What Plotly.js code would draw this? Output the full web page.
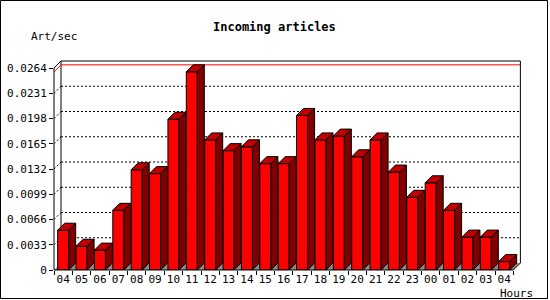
<!DOCTYPE html>
<html>
<head>
<meta charset="utf-8">
<script src="https://cdn.plot.ly/plotly-3.0.1.min.js"></script>
<style>html,body{margin:0;padding:0;background:#fff;}#chart{width:550px;height:300px;}</style>
</head>
<body>
<div id="chart"></div>
<script>
// ---- data ----
const hours = ['04','05','06','07','08','09','10','11','12','13','14','15','16','17','18','19','20','21','22','23','00','01','02','03','04'];
const rates = [0.0052,0.0031,0.0026,0.0078,0.0131,0.0126,0.0197,0.0259,0.0170,0.0156,0.0161,0.0139,0.0139,0.0202,0.0170,0.0175,0.0148,0.0170,0.0128,0.0095,0.0114,0.0078,0.0043,0.0043,0.0011];
const yTickVals = [0,0.0033,0.0066,0.0099,0.0132,0.0165,0.0198,0.0231,0.0264];
const yTickText = ['0','0.0033','0.0066','0.0099','0.0132','0.0165','0.0198','0.0231','0.0264'];
const chartTitle = 'Incoming articles';
const yTitle = 'Art/sec';
const xTitle = 'Hours';

// ---- geometry (pixels) ----
const W = 550, H = 300;
const N = hours.length;
const CW = 18.375;            // px per category
const FX0 = 54;               // front left
const FX1 = FX0 + N * CW;     // front right
const FY0 = 270;              // front bottom (value 0)
const FYT = 68;               // front y of top tick
const DEPTH = 7;              // 3d depth in px
const YMAX = yTickVals[yTickVals.length - 1];
const S = (FY0 - FYT) / YMAX; // px per unit
const DX = DEPTH / CW;
const DY = DEPTH / S;
const BW = 0.6;

const xs = hours.map((h, i) => i);

// side and top faces
const sideX = [], sideY = [], topX = [], topY = [];
rates.forEach((v, i) => {
  const l = i - BW / 2, r = i + BW / 2;
  sideX.push(r, r, r + DX, r + DX, r, null);
  sideY.push(0, v, v + DY, DY, 0, null);
  topX.push(l, r, r + DX, l + DX, l, null);
  topY.push(v, v, v + DY, v + DY, v, null);
});

const traces = [
  {type: 'bar', x: xs, y: rates, width: BW,
   marker: {color: '#ff0000', line: {color: '#000', width: 1}}, hoverinfo: 'skip'},
  {type: 'scatter', mode: 'lines', x: sideX, y: sideY, fill: 'toself', fillcolor: '#800000',
   line: {color: '#000', width: 1}, hoverinfo: 'skip', connectgaps: false},
  {type: 'scatter', mode: 'lines', x: topX, y: topY, fill: 'toself', fillcolor: '#c00000',
   line: {color: '#000', width: 1}, hoverinfo: 'skip', connectgaps: false}
];

const px = x => x / W, py = y => 1 - y / H;
const pline = (x0, y0, x1, y1, layer, color, dash) => ({type: 'line', xref: 'paper', yref: 'paper',
  x0: px(x0), y0: py(y0), x1: px(x1), y1: py(y1), layer: layer || 'above',
  line: {color: color || '#000', width: 1, dash: dash || 'solid'}});

const shapes = [];
// floor
shapes.push({type: 'path', xref: 'x', yref: 'y', layer: 'below',
  path: `M ${-0.5} 0 L ${N - 0.5} 0 L ${N - 0.5 + DX} ${DY} L ${-0.5 + DX} ${DY} Z`,
  fillcolor: '#8c8c8c', line: {width: 0}});
// back grid lines + left wall stubs
yTickVals.slice(1, -1).forEach(v => {
  shapes.push({type: 'line', xref: 'x', yref: 'y', layer: 'below',
    x0: -0.5 + DX, x1: N - 0.5 + DX, y0: v + DY, y1: v + DY,
    line: {color: '#000', width: 1, dash: '2px,2px'}});
  shapes.push({type: 'line', xref: 'x', yref: 'y', layer: 'below',
    x0: -0.5, x1: -0.5 + DX, y0: v, y1: v + DY,
    line: {color: '#000', width: 1, dash: '2px,2px'}});
});
// max line
const maxV = Math.max(...rates);
shapes.push({type: 'line', xref: 'x', yref: 'y', layer: 'below',
  x0: -0.5 + DX, x1: N - 0.5 + DX, y0: maxV + DY, y1: maxV + DY, line: {color: '#ff0000', width: 1}});
shapes.push({type: 'line', xref: 'x', yref: 'y', layer: 'below',
  x0: -0.5, x1: -0.5 + DX, y0: maxV, y1: maxV + DY, line: {color: '#ff0000', width: 1}});
// back frame
shapes.push(pline(FX0 + DEPTH, FY0 - DEPTH, FX0 + DEPTH, FYT - DEPTH, 'below'));
shapes.push(pline(FX0 + DEPTH, FYT - DEPTH, FX1 + DEPTH, FYT - DEPTH));
shapes.push(pline(FX1 + DEPTH, FYT - DEPTH, FX1 + DEPTH, FY0 - DEPTH));
shapes.push(pline(FX1 + DEPTH, FY0 - DEPTH, FX1, FY0));
// front frame
shapes.push(pline(FX0, FY0, FX0, FYT));
shapes.push(pline(FX0, FYT, FX0 + DEPTH, FYT - DEPTH));
shapes.push(pline(FX0, FY0, FX1, FY0));
// outer border
shapes.push({type: 'rect', xref: 'paper', yref: 'paper', x0: px(0.5), x1: px(547.5), y0: py(0.5), y1: py(298.5),
  line: {color: '#000', width: 1}, layer: 'above'});

const boundaries = [];
for (let i = 0; i <= N; i++) boundaries.push(i - 0.5);

const FONT = 'DejaVu Sans Mono';
const layout = {
  width: W, height: H,
  margin: {l: 0, r: 0, t: 0, b: 0},
  paper_bgcolor: '#fff', plot_bgcolor: 'rgba(0,0,0,0)',
  showlegend: false,
  font: {family: FONT, size: 11, color: '#000'},
  xaxis: {domain: [px(FX0), px(FX1 + DEPTH)], range: [-0.5, N - 0.5 + DX],
    tickmode: 'array', tickvals: xs, ticktext: hours, ticks: '', showgrid: false, zeroline: false, showline: false,
    ticklabelstandoff: 1,
    minor: {tickmode: 'array', tickvals: boundaries, ticks: 'outside', ticklen: 4, tickcolor: '#000', showgrid: false},
    tickfont: {family: FONT, size: 11, color: '#000'}, fixedrange: true},
  yaxis: {domain: [py(FY0), py(FYT - DEPTH)], range: [0, YMAX + DY],
    tickmode: 'array', tickvals: yTickVals, ticktext: yTickText, ticks: 'outside', ticklen: 4, tickcolor: '#000',
    showgrid: false, zeroline: false, showline: false,
    tickfont: {family: FONT, size: 11, color: '#000'}, fixedrange: true},
  shapes: shapes,
  annotations: [
    {text: '<b>' + chartTitle + '</b>', xref: 'paper', yref: 'paper', x: px(274), y: py(27), xanchor: 'center', yanchor: 'middle',
     showarrow: false, font: {family: FONT, size: 12, color: '#000'}},
    {text: yTitle, xref: 'paper', yref: 'paper', x: px(29), y: py(37), xanchor: 'left', yanchor: 'middle',
     showarrow: false, font: {family: FONT, size: 11, color: '#000'}},
    {text: xTitle, xref: 'paper', yref: 'paper', x: px(535), y: py(293), xanchor: 'right', yanchor: 'middle',
     showarrow: false, font: {family: FONT, size: 11, color: '#000'}}
  ]
};

Plotly.newPlot('chart', traces, layout, {staticPlot: true, displayModeBar: false});
</script>
</body>
</html>
